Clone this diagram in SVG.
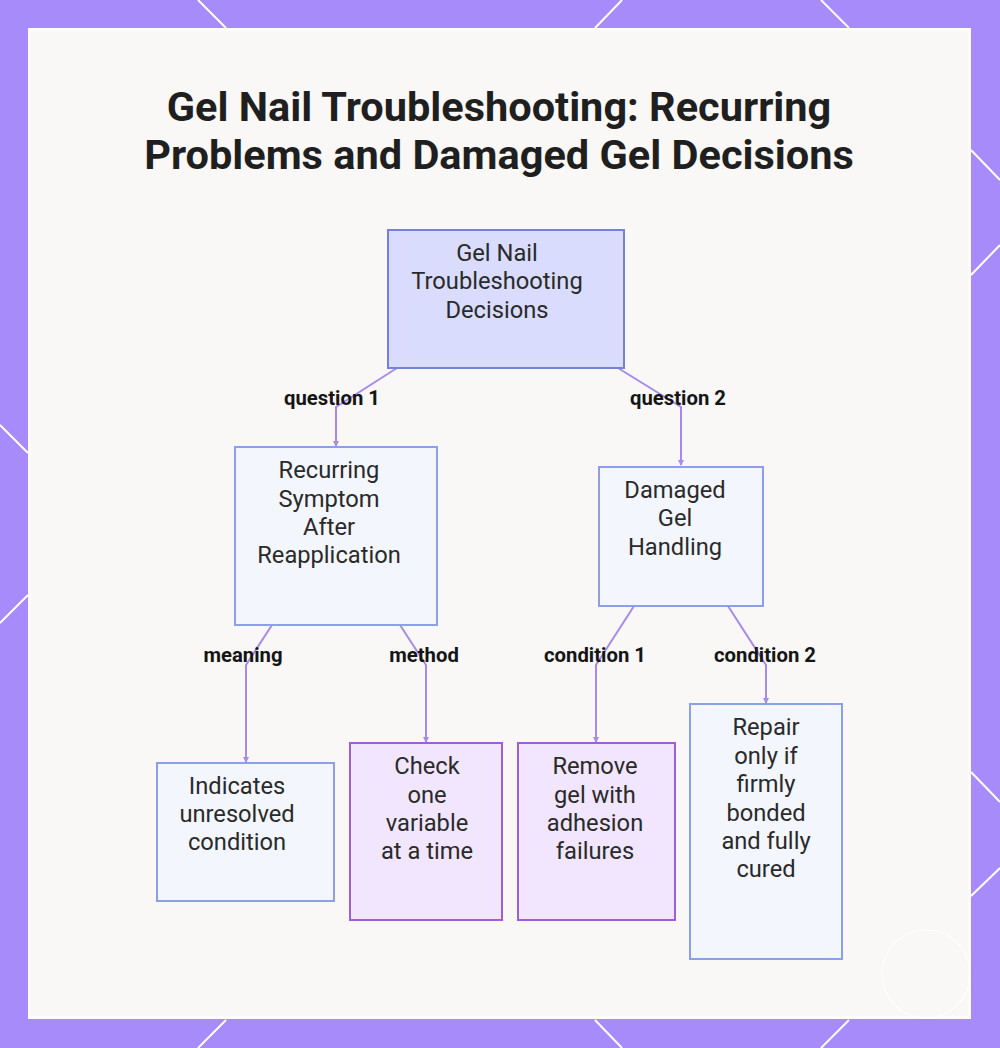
<svg xmlns="http://www.w3.org/2000/svg" width="1000" height="1048" viewBox="0 0 1000 1048">
  <defs>
    <style>
      .title { font-family: Roboto, "Liberation Sans", sans-serif; font-weight: 700; font-size: 41.5px; fill: #1f1f1f; text-anchor: middle; }
      .ntext { font-family: Roboto, "Liberation Sans", sans-serif; font-size: 23.7px; fill: #2a2a2a; text-anchor: middle; }
      .elabel { font-family: Roboto, "Liberation Sans", sans-serif; font-weight: 700; font-size: 20.3px; fill: #151515; text-anchor: middle; }
      .root { fill: #d9dcfc; stroke: #7682d6; stroke-width: 2; }
      .blue { fill: #f4f6fe; stroke: #8ca0ea; stroke-width: 2; }
      .purple { fill: #f1e6fd; stroke: #a25ed8; stroke-width: 2; }
      .edge { fill: none; stroke: #a68be9; stroke-width: 2; }
      .hex { stroke: #ffffff; stroke-width: 2; fill: none; }
    </style>
    <marker id="arrow" markerWidth="6" markerHeight="6" refX="5" refY="3" orient="auto" markerUnits="userSpaceOnUse">
      <path d="M0,0 L6,3 L0,6 Z" fill="#a68be9"/>
    </marker>
  </defs>

  <!-- background -->
  <rect x="0" y="0" width="1000" height="1048" fill="#a78bfa"/>
  <g class="hex">
    <line x1="198" y1="0" x2="226" y2="28"/>
    <line x1="622" y1="0" x2="595" y2="28"/>
    <line x1="821" y1="0" x2="849" y2="28"/>
    <line x1="226" y1="1020" x2="198" y2="1048"/>
    <line x1="595" y1="1020" x2="622" y2="1048"/>
    <line x1="849" y1="1020" x2="821" y2="1048"/>
    <line x1="0" y1="425" x2="28" y2="453"/>
    <line x1="28" y1="595" x2="0" y2="623"/>
    <line x1="971" y1="150" x2="1000" y2="180"/>
    <line x1="971" y1="275" x2="1000" y2="245"/>
    <line x1="971" y1="772" x2="1000" y2="802"/>
    <line x1="971" y1="896" x2="1000" y2="868"/>
  </g>
  <rect x="28" y="28" width="943" height="991" fill="#fdfcfc"/>
  <rect x="31" y="31" width="937" height="985" fill="#f9f8f6"/>
  <ellipse cx="926" cy="974" rx="44" ry="44" fill="none" stroke="#ffffff" stroke-width="1.2" opacity="0.8"/>

  <!-- title -->
  <text class="title" x="499" y="121">Gel Nail Troubleshooting: Recurring</text>
  <text class="title" x="499" y="169">Problems and Damaged Gel Decisions</text>

  <!-- connectors -->
  <g id="connectors">
    <polyline class="edge" points="397,368 336,407 336,446" marker-end="url(#arrow)"/>
    <polyline class="edge" points="618,368 681,407 681,465" marker-end="url(#arrow)"/>
    <polyline class="edge" points="272,625 246,665 246,762" marker-end="url(#arrow)"/>
    <polyline class="edge" points="400,625 426,665 426,742" marker-end="url(#arrow)"/>
    <polyline class="edge" points="634,606 596,665 596,742" marker-end="url(#arrow)"/>
    <polyline class="edge" points="728,606 766,665 766,703" marker-end="url(#arrow)"/>
    <text class="elabel" x="332" y="405">question 1</text>
    <text class="elabel" x="678" y="405">question 2</text>
    <text class="elabel" x="243" y="662">meaning</text>
    <text class="elabel" x="424" y="662">method</text>
    <text class="elabel" x="595" y="662">condition 1</text>
    <text class="elabel" x="765" y="662">condition 2</text>
  </g>

  <!-- nodes -->
  <g id="root">
    <rect class="root" x="388" y="230" width="236" height="138"/>
    <text class="ntext" x="497" y="261">Gel Nail</text>
    <text class="ntext" x="497" y="289">Troubleshooting</text>
    <text class="ntext" x="497" y="318">Decisions</text>
  </g>
  <g id="recurring">
    <rect class="blue" x="235" y="447" width="202" height="178"/>
    <text class="ntext" x="329" y="478">Recurring</text>
    <text class="ntext" x="329" y="507">Symptom</text>
    <text class="ntext" x="329" y="535">After</text>
    <text class="ntext" x="329" y="563">Reapplication</text>
  </g>
  <g id="damaged">
    <rect class="blue" x="599" y="467" width="164" height="139"/>
    <text class="ntext" x="675" y="498">Damaged</text>
    <text class="ntext" x="675" y="526">Gel</text>
    <text class="ntext" x="675" y="555">Handling</text>
  </g>
  <g id="indicates">
    <rect class="blue" x="157" y="763" width="177" height="138"/>
    <text class="ntext" x="237" y="794">Indicates</text>
    <text class="ntext" x="237" y="822">unresolved</text>
    <text class="ntext" x="237" y="850">condition</text>
  </g>
  <g id="check">
    <rect class="purple" x="350" y="743" width="152" height="177"/>
    <text class="ntext" x="427" y="774">Check</text>
    <text class="ntext" x="427" y="803">one</text>
    <text class="ntext" x="427" y="831">variable</text>
    <text class="ntext" x="427" y="859">at a time</text>
  </g>
  <g id="remove">
    <rect class="purple" x="518" y="743" width="157" height="177"/>
    <text class="ntext" x="595" y="774">Remove</text>
    <text class="ntext" x="595" y="803">gel with</text>
    <text class="ntext" x="595" y="831">adhesion</text>
    <text class="ntext" x="595" y="859">failures</text>
  </g>
  <g id="repair">
    <rect class="blue" x="690" y="704" width="152" height="255"/>
    <text class="ntext" x="766" y="735">Repair</text>
    <text class="ntext" x="766" y="764">only if</text>
    <text class="ntext" x="766" y="792">firmly</text>
    <text class="ntext" x="766" y="821">bonded</text>
    <text class="ntext" x="766" y="849">and fully</text>
    <text class="ntext" x="766" y="877">cured</text>
  </g>
</svg>
